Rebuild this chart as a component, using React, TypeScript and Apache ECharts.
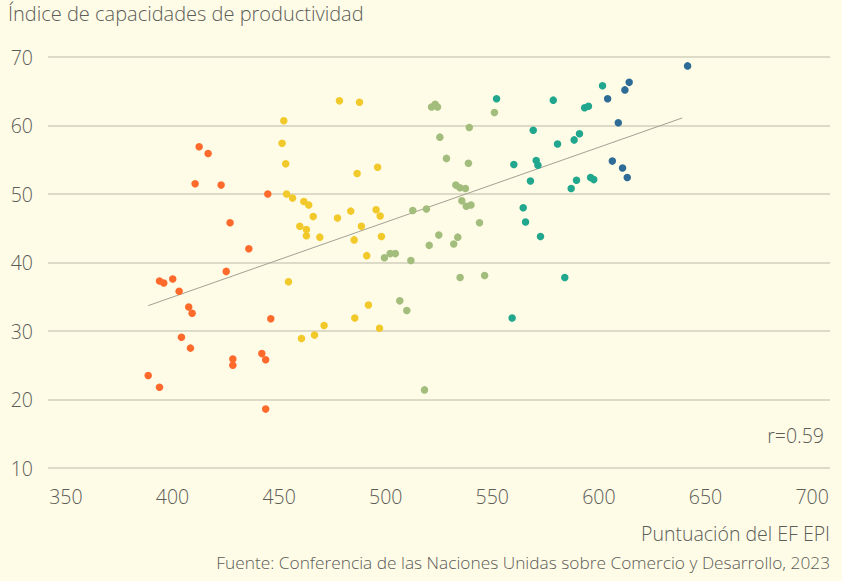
import React, { useEffect, useRef } from "react";
import * as echarts from "echarts";

const titleText = "Índice de capacidades de productividad";
const xAxisName = "Puntuación del EF EPI";
const sourceText = "Fuente: Conferencia de las Naciones Unidas sobre Comercio y Desarrollo, 2023";
const rText = "r=0.59";

const xTickLabels = [350, 400, 450, 500, 550, 600, 650, 700];

const orangePoints: [number, number][] = [
  [412.5, 56.9], [416.7, 55.9], [410.6, 51.5], [422.8, 51.3], [444.7, 50.0],
  [427.0, 45.8], [435.8, 42.0], [425.2, 38.7], [393.9, 37.3], [395.9, 37.0],
  [400.1, 37.6], [403.1, 35.8], [407.6, 33.5], [409.2, 32.6], [446.1, 31.8],
  [404.2, 29.1], [408.4, 27.5], [428.3, 25.9], [428.3, 25.0], [441.9, 26.7],
  [443.7, 25.8], [388.6, 23.5], [393.9, 21.8], [443.7, 18.6],
];

const yellowPoints: [number, number][] = [
  [478.3, 63.6], [487.7, 63.4], [452.2, 60.7], [451.4, 57.4], [453.1, 54.4],
  [496.2, 53.9], [486.6, 53.0], [453.5, 50.0], [456.3, 49.4], [461.6, 48.9],
  [463.9, 48.4], [466.0, 46.7], [459.7, 45.3], [462.8, 44.8], [462.8, 43.9],
  [469.1, 43.7], [477.4, 46.5], [483.6, 47.5], [495.5, 47.7], [497.4, 46.8],
  [488.6, 45.3], [485.2, 43.3], [498.0, 43.8], [491.1, 41.0], [454.4, 37.2],
  [491.9, 33.8], [485.5, 31.9], [471.1, 30.8], [497.1, 30.4], [460.5, 28.9],
  [466.6, 29.4],
];

const greenPoints: [number, number][] = [
  [512.7, 47.6], [519.1, 47.8], [524.9, 44.0], [520.4, 42.5], [499.4, 40.7],
  [502.1, 41.3], [504.5, 41.3], [511.8, 40.3], [506.6, 34.4], [509.9, 33.0],
  [521.5, 62.7], [523.2, 63.1], [524.3, 62.7], [551.0, 61.9], [539.2, 59.7],
  [525.4, 58.3], [528.5, 55.2], [538.8, 54.5], [532.9, 51.3], [534.8, 50.9],
  [537.4, 50.8], [535.7, 49.0], [537.8, 48.2], [540.0, 48.4], [544.0, 45.8],
  [533.8, 43.7], [531.9, 42.7], [534.9, 37.8], [546.4, 38.1], [518.2, 21.4],
];

const tealPoints: [number, number][] = [
  [601.7, 65.8], [578.6, 63.7], [593.3, 62.6], [595.1, 62.8], [569.2, 59.3],
  [590.9, 58.8], [588.4, 57.9], [580.6, 57.3], [560.1, 54.3], [570.6, 54.9],
  [571.4, 54.2], [567.9, 51.9], [589.5, 52.0], [596.1, 52.4], [597.6, 52.1],
  [587.0, 50.8], [564.5, 48.0], [565.6, 45.9], [572.6, 43.8], [584.0, 37.8],
  [559.3, 31.9], [552.0, 63.9],
];

const bluePoints: [number, number][] = [
  [641.6, 68.7], [614.2, 66.3], [612.2, 65.2], [604.1, 63.9], [609.1, 60.4],
  [606.3, 54.8], [611.1, 53.8], [613.3, 52.4],
];

const trendLine: [number, number][] = [
  [388.6, 33.7],
  [639.1, 61.1],
];

const FONT = "'Open Sans', 'Noto Sans', sans-serif";
const TEXT = "#5c5c58";
const W = 300;

export default function App() {
  const ref = useRef<HTMLDivElement>(null);

  useEffect(() => {
    if (!ref.current) return;
    const chart = echarts.init(ref.current, undefined, { renderer: "svg" });
    const scatter = (name: string, data: [number, number][], color: string) => ({
      name,
      type: "scatter",
      data,
      symbolSize: 7.5,
      itemStyle: { color, opacity: 1 },
      z: 3,
    });
    chart.setOption({
      animation: false,
      backgroundColor: "#fefbe6",
      textStyle: { fontFamily: FONT },
      grid: { left: 48, right: 12, top: 57, bottom: 113 },
      xAxis: {
        type: "value",
        min: 341.6,
        max: 708.4,
        axisLine: { show: false },
        axisTick: { show: false },
        splitLine: { show: false },
        axisLabel: {
          customValues: xTickLabels,
          color: TEXT,
          fontSize: 19.5,
          fontWeight: W,
          fontFamily: FONT,
          margin: 18,
        },
      },
      yAxis: {
        type: "value",
        min: 10,
        max: 70,
        interval: 10,
        axisLine: { show: false },
        axisTick: { show: false },
        axisLabel: { color: TEXT, fontSize: 19.5, fontWeight: W, fontFamily: FONT, margin: 15 },
        splitLine: { lineStyle: { color: "#d2cfbd", width: 1.5 } },
      },
      series: [
        {
          type: "line",
          data: trendLine,
          symbol: "none",
          lineStyle: { color: "#a3a193", width: 1 },
          z: 2,
        },
        scatter("orange", orangePoints, "#fd6a2c"),
        scatter("yellow", yellowPoints, "#f2c92b"),
        scatter("green", greenPoints, "#a2bd7c"),
        scatter("teal", tealPoints, "#21a78e"),
        scatter("blue", bluePoints, "#2e6c97"),
      ],
      graphic: [
        {
          type: "text",
          left: 8,
          top: 3,
          style: { text: titleText, fontSize: 20, fontWeight: W, fill: TEXT, fontFamily: FONT },
        },
        {
          type: "text",
          right: 18,
          top: 425,
          style: { text: rText, fontSize: 19.5, fontWeight: W, fill: TEXT, fontFamily: FONT },
        },
        {
          type: "text",
          right: 12,
          top: 523,
          style: { text: xAxisName, fontSize: 19.5, fontWeight: W, fill: TEXT, fontFamily: FONT },
        },
        {
          type: "text",
          right: 12,
          top: 554,
          style: { text: sourceText, fontSize: 17.3, fontWeight: W, fill: TEXT, fontFamily: FONT },
        },
      ],
    });
    return () => chart.dispose();
  }, []);

  return <div ref={ref} style={{ width: 842, height: 581, position: "fixed", left: 0, top: 0 }} />;
}
